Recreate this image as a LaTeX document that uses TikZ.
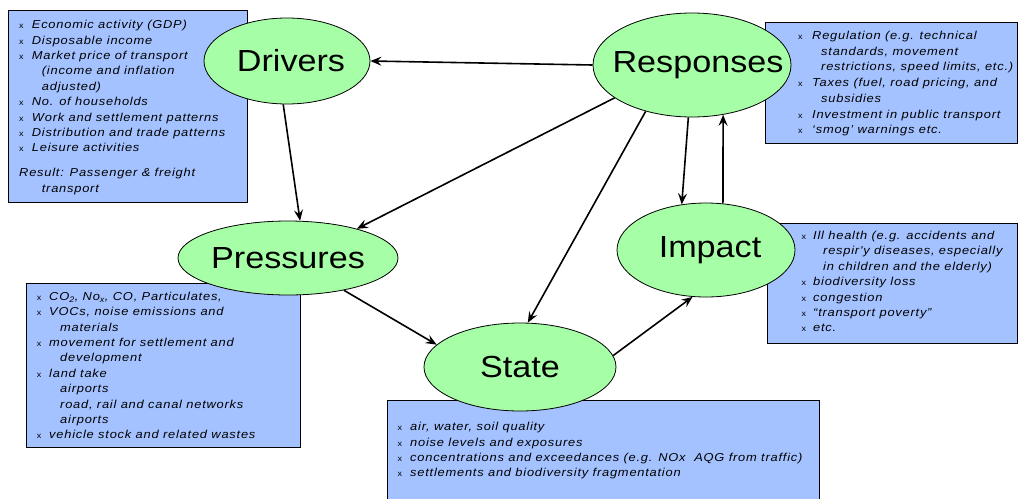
\documentclass[tikz,border=0pt]{standalone}
\usepackage{fontspec}
\setmainfont{Liberation Sans}
\newfontfamily\boxfont[FakeStretch=1.12,LetterSpace=6.7]{Liberation Sans}
\newfontfamily\elfont[FakeStretch=1.12]{Liberation Sans}
\usetikzlibrary{shapes.geometric,arrows.meta}
\definecolor{elgreen}{RGB}{166,255,166}
\definecolor{boxblue}{RGB}{164,194,255}
\newcommand{\bx}[1]{\makebox[#1pt][l]{\fontsize{8}{8}\selectfont\upshape x}}
\newcommand{\ct}[1]{\hspace*{#1pt}}
\newcommand{\fst}{\rule{0pt}{10pt}}
\newcommand{\ellab}[2]{\makebox[0pt]{\hspace*{#1pt}#2}}
\begin{document}
\begin{tikzpicture}[x=1pt,y=-1pt,
  el/.style={ellipse, draw=black, line width=0.8pt, fill=elgreen, inner sep=0pt,
    font=\elfont\fontsize{30.5}{30.5}\selectfont},
  boxn/.style={draw=black, line width=1.4pt, fill=boxblue, anchor=north west, inner sep=0pt},
  lst/.style={anchor=north west, inner sep=0pt, align=left,
    font=\boxfont\itshape\fontsize{11.5}{15.4}\selectfont},
  arr/.style={line width=1.6pt, -{Stealth[length=11pt,width=9pt,inset=4pt]}}]
\useasboundingbox (0,0) rectangle (1019,498);
% boxes
\node[boxn, minimum width=239pt, minimum height=192pt] (dbox) at (8,10) {};
\node[boxn, minimum width=252pt, minimum height=121pt] (rbox) at (765,22) {};
\node[boxn, minimum width=250pt, minimum height=120pt] (ibox) at (767,223) {};
\node[boxn, minimum width=274pt, minimum height=164pt] (pbox) at (26,283) {};
\node[boxn, minimum width=432pt, minimum height=110pt] (sbox) at (387,400) {};
% box texts
\node[lst] (dtxt) at (19,18.5) {\fst\bx{12.7}Economic activity (GDP)\\
\bx{12.7}Disposable income\\
\bx{12.7}Market price of transport\\
\ct{22.7}(income and inflation\\
\ct{22.7}adjusted)\\
\bx{12.7}No. of households\\
\bx{12.7}Work and settlement patterns\\
\bx{12.7}Distribution and trade patterns\\
\bx{12.7}Leisure activities\\[9.6pt]
Result: Passenger \& freight\\
\ct{22.7}transport};
\node[lst, font=\boxfont\itshape\fontsize{11.5}{15.7}\selectfont] (rtxt) at (798,29.3) {\fst\bx{14}Regulation (e.g. technical\\
\ct{23}standards, movement\\
\ct{23}restrictions, speed limits, etc.)\\
\bx{14}Taxes (fuel, road pricing, and\\
\ct{23}subsidies\\
\bx{14}Investment in public transport\\
\bx{14}‘smog’ warnings etc.};
\node[lst] (itxt) at (801.5,229.3) {\fst\bx{11.5}Ill health (e.g. accidents and\\
\ct{21.5}respir'y diseases, especially\\
\ct{21.5}in children and the elderly)\\
\bx{11.5}biodiversity loss\\
\bx{11.5}congestion\\
\bx{11.5}“transport poverty”\\
\bx{11.5}etc.};
\node[lst] (ptxt) at (36.7,290) {\fst\bx{12.3}CO\textsubscript{2}, No\textsubscript{x}, CO, Particulates,\\
\bx{12.3}VOCs, noise emissions and\\
\ct{23.3}materials\\
\bx{12.3}movement for settlement and\\
\ct{23.3}development\\
\bx{12.3}land take\\
\ct{23.3}airports\\
\ct{23.3}road, rail and canal networks\\
\ct{23.3}airports\\
\bx{12.3}vehicle stock and related wastes};
\node[lst, font=\boxfont\itshape\fontsize{11.5}{15.3}\selectfont] (stxt) at (397.3,420.7) {\fst\bx{12.7}air, water, soil quality\\
\bx{12.7}noise levels and exposures\\
\bx{12.7}concentrations and exceedances (e.g. NOx\ \ AQG from traffic)\\
\bx{12.7}settlements and biodiversity fragmentation};
% ellipses
\node[el, minimum width=166pt, minimum height=86pt] (drv) at (287,61) {\ellab{8}{Drivers}};
\node[el, minimum width=198pt, minimum height=104pt] (resp) at (692,65) {\ellab{12}{Responses}};
\node[el, minimum width=220pt, minimum height=74pt] (pres) at (288,258) {\ellab{0}{Pressures}};
\node[el, minimum width=192pt, minimum height=88pt] (state) at (520,367) {\ellab{0}{State}};
\node[el, minimum width=178pt, minimum height=94pt] (imp) at (706,250) {\ellab{8}{Impact}};
% arrows
\draw[arr] (resp.west) -- (drv.east);
\draw[arr] (drv.265) -- (pres.72);
\draw[arr] (resp.203) -- (pres.23);
\draw[arr] (resp.225) -- (state.80);
\draw[arr] (resp.266) -- (imp.118);
\draw[arr] (imp.70) -- (resp.302);
\draw[arr] (pres.330) -- (state.165);
\draw[arr] (state.7) -- (imp.254);
\end{tikzpicture}
\end{document}
